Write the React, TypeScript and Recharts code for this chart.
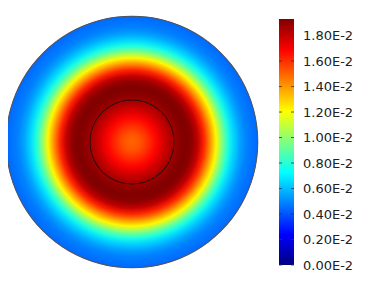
import React from "react";
import { PieChart, Pie, Cell, BarChart, Bar, XAxis, YAxis } from "recharts";

// Radial profile of the field (normalized radius -> value in units of 1E-2)
const RADIUS = [0, 0.063, 0.127, 0.19, 0.254, 0.317, 0.381, 0.429, 0.476, 0.524, 0.571, 0.619, 0.667, 0.714, 0.762, 0.81, 0.857, 0.905, 0.952, 1.0];
const VALUES = [1.5, 1.53, 1.6, 1.68, 1.77, 1.85, 1.91, 1.93, 1.9, 1.8, 1.62, 1.42, 1.22, 0.98, 0.78, 0.64, 0.55, 0.49, 0.46, 0.44];

// Colour range and colour-bar ticks (units of 1E-2)
const VMIN = 0;
const VMAX = 1.93;
const TICKS = [0, 0.2, 0.4, 0.6, 0.8, 1.0, 1.2, 1.4, 1.6, 1.8];
const JET_ANCHORS = [0, 0.125, 0.375, 0.625, 0.875, 1];

const domainData = [{ name: "domain", value: 1 }];
const colorbarData = [{ name: "bar", value: VMAX }];

const W = 374;
const H = 278;
const DISK_CX = 124;
const DISK_CY = 134;
const DISK_R = 126;
const INNER_R = 42;
const BAR_W = 15;

function clamp(x: number) {
  return Math.max(0, Math.min(1, x));
}
function jet(t: number) {
  const r = clamp(1.5 - Math.abs(4 * t - 3));
  const g = clamp(1.5 - Math.abs(4 * t - 2));
  const b = clamp(1.5 - Math.abs(4 * t - 1));
  return `rgb(${Math.round(r * 255)},${Math.round(g * 255)},${Math.round(b * 255)})`;
}
const norm = (v: number) => (v - VMIN) / (VMAX - VMIN);
const fmt = (v: number) => `${v.toFixed(2)}E-2`;

const ColorbarTick = (props: any) => {
  const { x, y, payload } = props;
  return (
    <g>
      <line x1={x - 3} x2={x} y1={y} y2={y} stroke="#333" strokeWidth={0.8} />
      <line x1={x - BAR_W} x2={x - BAR_W + 3} y1={y} y2={y} stroke="#333" strokeWidth={0.8} />
      <text
        x={x + 9}
        y={y}
        dy="0.36em"
        textAnchor="start"
        fontFamily="DejaVu Sans"
        fontSize={13}
        fill="#222"
      >
        {fmt(payload.value)}
      </text>
    </g>
  );
};

export default function App() {
  return (
    <div style={{ position: "relative", width: W, height: H }}>
      <svg width={0} height={0} style={{ position: "absolute" }}>
        <defs>
          <radialGradient id="fieldGrad" cx="50%" cy="50%" r="50%" fx="50%" fy="50%">
            {RADIUS.map((r, i) => (
              <stop key={i} offset={r} stopColor={jet(norm(VALUES[i]))} />
            ))}
          </radialGradient>
          <linearGradient id="cbGrad" x1="0" y1="1" x2="0" y2="0">
            {JET_ANCHORS.map((t, i) => (
              <stop key={i} offset={t} stopColor={jet(t)} />
            ))}
          </linearGradient>
        </defs>
      </svg>
      <div style={{ position: "absolute", left: 0, top: 0 }}>
        <PieChart width={W} height={H} margin={{ top: 0, right: 0, bottom: 0, left: 0 }}>
          <Pie
            data={domainData}
            dataKey="value"
            cx={DISK_CX}
            cy={DISK_CY}
            innerRadius={0}
            outerRadius={DISK_R}
            startAngle={90}
            endAngle={-270}
            stroke="none"
            isAnimationActive={false}
          >
            <Cell fill="url(#fieldGrad)" />
          </Pie>
          <Pie
            data={domainData}
            dataKey="value"
            cx={DISK_CX}
            cy={DISK_CY}
            innerRadius={DISK_R - 0.7}
            outerRadius={DISK_R + 0.3}
            startAngle={90}
            endAngle={-270}
            stroke="none"
            isAnimationActive={false}
          >
            <Cell fill="#555" />
          </Pie>
          <Pie
            data={domainData}
            dataKey="value"
            cx={DISK_CX}
            cy={DISK_CY}
            innerRadius={INNER_R - 0.4}
            outerRadius={INNER_R + 0.4}
            startAngle={90}
            endAngle={-270}
            stroke="none"
            isAnimationActive={false}
          >
            <Cell fill="#111" />
          </Pie>
        </PieChart>
      </div>
      <div style={{ position: "absolute", left: 0, top: 0 }}>
        <BarChart
          width={W}
          height={H}
          data={colorbarData}
          margin={{ top: 11, right: 28, bottom: 21, left: 271 }}
          barCategoryGap={0}
          barGap={0}
        >
          <XAxis dataKey="name" hide />
          <YAxis
            orientation="right"
            width={60}
            domain={[VMIN, VMAX]}
            ticks={TICKS}
            interval={0}
            tickLine={false}
            axisLine={false}
            tickSize={0}
            tickMargin={0}
            tick={<ColorbarTick />}
            allowDataOverflow
          />
          <Bar dataKey="value" fill="url(#cbGrad)" isAnimationActive={false} />
        </BarChart>
      </div>
    </div>
  );
}
